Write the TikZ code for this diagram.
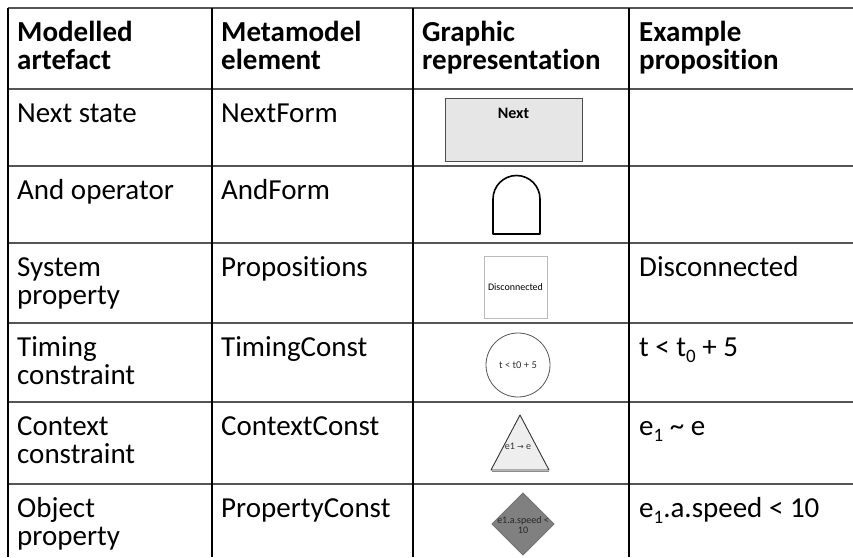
\documentclass[tikz,border=0pt]{standalone}
\usepackage{fontspec}
\setmainfont{Carlito}[Ligatures=NoCommon]
\newfontfamily\arrowfont{DejaVu Sans}
\usetikzlibrary{shapes.geometric}
\newcommand{\cellstrut}{\rule{0pt}{22pt}}
\newcommand{\sbs}[1]{\raisebox{-6pt}{\fontsize{19}{19}\selectfont #1}}
\definecolor{hlinec}{HTML}{555555}
\definecolor{nextfill}{HTML}{E6E6E6}
\definecolor{nextdraw}{HTML}{4D4D4D}
\definecolor{propdraw}{HTML}{BBBBBB}
\definecolor{trifill}{HTML}{EEEEEE}
\definecolor{diafill}{HTML}{808080}
\definecolor{smalltext}{HTML}{333333}
\begin{document}
\begin{tikzpicture}[x=1pt,y=-1pt,
  cell/.style={anchor=north west, inner sep=0pt, align=left, font=\fontsize{29}{28.5}\selectfont},
  head/.style={cell, font=\fontsize{29}{28.5}\selectfont\bfseries},
  hrule/.style={draw=hlinec, line width=1.6pt},
  vrule/.style={draw=black, line width=1.2pt},
  tiny/.style={inner sep=0pt, align=center, text=smalltext, font=\fontsize{10}{10.5}\selectfont},
]
\useasboundingbox (0,0) rectangle (853,557);
% grid
\foreach \yy in {8,89,166,243,323,402,484} \draw[hrule] (8,\yy) -- (853,\yy);
\foreach \xx in {8,212,413,629} \draw[vrule] (\xx,8) -- (\xx,557);

% header
\node[head] (h1) at (17,19)  {\cellstrut Modelled\\artefact};
\node[head] (h2) at (221,19) {\cellstrut Metamodel\\element};
\node[head] (h3) at (422,19) {\cellstrut Graphic\\representation};
\node[head] (h4) at (639,19) {\cellstrut Example\\proposition};

% column 1
\node[cell] (a1) at (17,100) {\cellstrut Next state};
\node[cell] (a2) at (17,177) {\cellstrut And operator};
\node[cell] (a3) at (17,254) {\cellstrut System\\property};
\node[cell] (a4) at (17,334) {\cellstrut Timing\\constraint};
\node[cell] (a5) at (17,413) {\cellstrut Context\\constraint};
\node[cell] (a6) at (17,495) {\cellstrut Object\\property};

% column 2
\node[cell] (b1) at (221,100) {\cellstrut NextForm};
\node[cell] (b2) at (221,177) {\cellstrut AndForm};
\node[cell] (b3) at (221,254) {\cellstrut Propositions};
\node[cell] (b4) at (221,334) {\cellstrut TimingConst};
\node[cell] (b5) at (221,413) {\cellstrut ContextConst};
\node[cell] (b6) at (221,495) {\cellstrut PropertyConst};

% column 4
\node[cell] (d3) at (639,254) {\cellstrut Disconnected};
\node[cell] (d4) at (639,334) {\cellstrut t < t\sbs{0} + 5};
\node[cell] (d5) at (639,413) {\cellstrut e\sbs{1} \textasciitilde{} e};
\node[cell] (d6) at (639,495) {\cellstrut e\sbs{1}.a.speed < 10};

% column 3 graphics
% Next
\node[draw=nextdraw, fill=nextfill, line width=1pt, minimum width=137pt, minimum height=63pt, inner sep=0pt] (gnext) at (513.5,129.5) {};
\node[anchor=base, inner sep=0pt, font=\fontsize{16}{16}\selectfont\bfseries] (gnextlbl) at (513.5,118) {Next};
% And
\draw[line width=1.6pt, line join=round] (493,234) -- (493,199) arc[start angle=180, end angle=360, radius=23.5] -- (540,234) -- cycle;
% Proposition
\node[draw=propdraw, fill=white, line width=1pt, minimum width=63pt, minimum height=62pt, inner sep=0pt, text=black, font=\fontsize{10}{10.5}\selectfont] (gprop) at (515.5,287) {Disconnected};
% Timing
\node[circle, draw=hlinec, line width=0.8pt, minimum size=64pt, inner sep=0pt, text=smalltext, font=\fontsize{10.5}{11}\selectfont] (gtime) at (518,365) {t < t0 + 5};
% Context
\draw[draw=black!80, fill=trifill, line width=0.9pt, line join=round] (520,415) -- (549,470) -- (491,470) -- cycle;
\draw[draw=black!45, line width=1pt] (492,471.5) -- (549,471.5);
\node[tiny] (gctx) at (518,446) {e1 {\arrowfont\fontsize{8}{8}\selectfont →} e};
% Property
\draw[draw=black!55, fill=diafill, line width=0.8pt] (523,493) -- (554,524) -- (523,555) -- (492,524) -- cycle;
\node[tiny, text=black!85] (gobj) at (523,525) {e1.a.speed <\\10};
\end{tikzpicture}
\end{document}
